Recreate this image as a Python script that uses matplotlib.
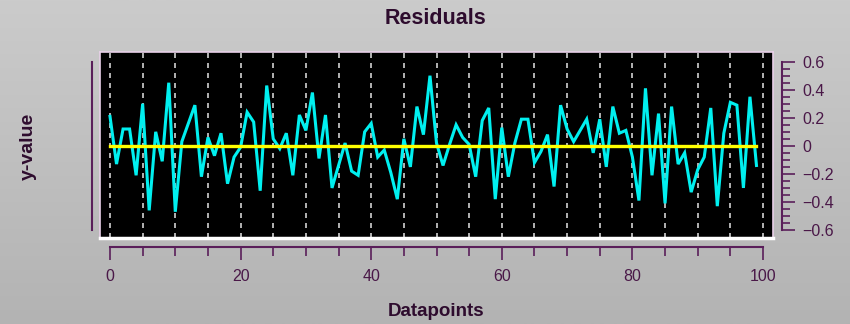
import numpy as np
import matplotlib
matplotlib.use("Agg")
import matplotlib.pyplot as plt
from matplotlib.lines import Line2D
from matplotlib.ticker import FixedLocator, MultipleLocator, FixedFormatter, NullFormatter

plt.rcParams['font.family'] = ['Liberation Sans', 'DejaVu Sans']

# Residuals for each datapoint
datapoints = np.arange(100)
residuals = [
    0.21, -0.13, 0.12, 0.12, -0.21, 0.30, -0.46, 0.10, -0.11, 0.45,
    -0.47, 0.03, 0.16, 0.29, -0.22, 0.06, -0.07, 0.09, -0.27, -0.08,
    -0.01, 0.24, 0.17, -0.32, 0.43, 0.05, -0.02, 0.09, -0.21, 0.22,
    0.11, 0.38, -0.09, 0.22, -0.30, -0.14, 0.02, -0.18, -0.21, 0.10,
    0.16, -0.08, -0.03, -0.19, -0.38, 0.05, -0.15, 0.28, 0.08, 0.50,
    0.02, -0.14, 0.01, 0.15, 0.06, 0.01, -0.22, 0.18, 0.27, -0.38,
    0.13, -0.22, 0.02, 0.19, 0.19, -0.12, -0.04, 0.08, -0.29, 0.29,
    0.12, 0.03, 0.11, 0.19, -0.05, 0.19, -0.15, 0.28, 0.09, 0.11,
    -0.08, -0.39, 0.41, -0.21, 0.23, -0.41, 0.28, -0.13, -0.05, -0.33,
    -0.17, -0.08, 0.27, -0.43, 0.09, 0.31, 0.29, -0.30, 0.35, -0.14,
]
x_ticks = [0, 20, 40, 60, 80, 100]
x_tick_labels = ["0", "20", "40", "60", "80", "100"]
y_ticks = [-0.6, -0.4, -0.2, 0.0, 0.2, 0.4, 0.6]
y_tick_labels = ["\u22120.6", "\u22120.4", "\u22120.2", "0", "0.2", "0.4", "0.6"]

W, H = 850, 324
PURPLE = "#5a1f5a"
LABEL = "#4a1848"
TITLE = "#2e0c2e"

fig = plt.figure(figsize=(W / 100, H / 100), dpi=100)


def rect(left, top, right, bottom):
    """Figure-fraction rectangle from pixel edges (origin top-left)."""
    return [left / W, 1 - bottom / H, (right - left) / W, (bottom - top) / H]


# grey gradient backdrop
bg = fig.add_axes([0, 0, 1, 1])
grad = np.linspace(0, 1, 256)[:, None]
bg.imshow(grad, aspect="auto", cmap=matplotlib.colors.LinearSegmentedColormap.from_list(
    "g", ["#cbcbcb", "#b3b3b3"]), extent=[0, 1, 0, 1], origin="upper")
bg.set_axis_off()

# plotting area
ax = fig.add_axes(rect(100, 52, 773, 238))
ax.set_facecolor("black")
ax.set_xlim(-1.53, 101.53)
ax.set_ylim(-0.657, 0.669)
ax.xaxis.set_major_locator(MultipleLocator(5))
ax.tick_params(length=0, labelbottom=False, labelleft=False)
ax.set_yticks([])
ax.grid(axis="x", color="#d2d2d2", linestyle=(0, (3, 3)), linewidth=1.2)
ax.plot(datapoints, residuals, color="#00f0f0", linewidth=2.2, solid_joinstyle="miter")
ax.plot(datapoints, np.zeros(len(datapoints)), color="#ffff00", linewidth=2.4)
for side in ("top", "left", "right"):
    ax.spines[side].set_color("#e8d0e8")
    ax.spines[side].set_linewidth(1.2)
ax.spines["bottom"].set_color("#ffffff")
ax.spines["bottom"].set_linewidth(2.5)

# detached value axis on the right
ay = fig.add_axes(rect(772, 61.7, 782, 230))
ay.set_ylim(-0.6, 0.6)
ay.patch.set_visible(False)
for side in ("top", "bottom", "left"):
    ay.spines[side].set_visible(False)
ay.spines["right"].set_color(PURPLE)
ay.spines["right"].set_linewidth(1.5)
ay.set_xticks([])
ay.yaxis.tick_right()
ay.yaxis.set_major_locator(FixedLocator(y_ticks))
ay.yaxis.set_major_formatter(FixedFormatter(y_tick_labels))
ay.yaxis.set_minor_locator(MultipleLocator(0.05))
ay.tick_params(axis="y", which="major", direction="out", length=9.5, width=1.2,
               color=PURPLE, labelcolor=LABEL, labelsize=11.5, pad=5)
ay.tick_params(axis="y", which="minor", direction="out", length=5.5, width=1.2, color=PURPLE)

# detached datapoint axis at the bottom
axb = fig.add_axes(rect(110, 237, 763, 247))
axb.set_xlim(0, 100)
axb.patch.set_visible(False)
for side in ("top", "left", "right"):
    axb.spines[side].set_visible(False)
axb.spines["bottom"].set_color(PURPLE)
axb.spines["bottom"].set_linewidth(1.5)
axb.set_yticks([])
axb.xaxis.set_major_locator(FixedLocator(x_ticks))
axb.xaxis.set_major_formatter(FixedFormatter(x_tick_labels))
axb.xaxis.set_minor_locator(MultipleLocator(5))
axb.xaxis.set_minor_formatter(NullFormatter())
axb.tick_params(axis="x", which="major", direction="out", length=9.5, width=1.2,
                color=PURPLE, labelcolor=LABEL, labelsize=11.5, pad=6)
axb.tick_params(axis="x", which="minor", direction="out", length=6.5, width=1.2, color=PURPLE)

# thin rule left of the plotting area
fig.add_artist(Line2D([92 / W, 92 / W], [1 - 61.7 / H, 1 - 230 / H],
                      color=PURPLE, linewidth=1.5))

fig.text(436 / W, 1 - 18 / H, "Residuals", ha="center", va="center",
         fontsize=15.5, fontweight="bold", color=TITLE)
fig.text(436 / W, 1 - 311 / H, "Datapoints", ha="center", va="center",
         fontsize=13.5, fontweight="bold", color=TITLE)
fig.text(28 / W, 1 - 146 / H, "y-value", ha="center", va="center", rotation=90,
         fontsize=14, fontweight="bold", color=TITLE)

fig.savefig("out.png", dpi=100)
